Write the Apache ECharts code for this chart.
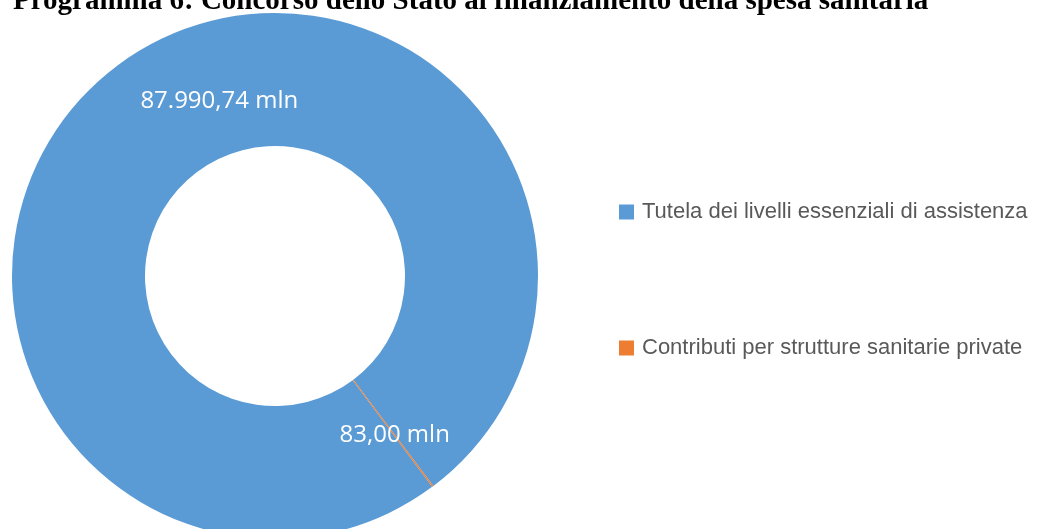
<!DOCTYPE html>
<html lang="it">
<head>
	<meta charset="UTF-8">
	<title>Programma 6</title>
	<style>
		html, body { margin: 0; padding: 0; background: #fff; }
		#main { width: 1045px; height: 529px; }
	</style>
</head>
<body>
	<div id="main"></div>
	<script src="https://cdn.jsdelivr.net/npm/echarts@6/dist/echarts.min.js"></script>
	<script>
		// dati
		var categorie = ['Tutela dei livelli essenziali di assistenza', 'Contributi per strutture sanitarie private'];
		var valori = [87990.74, 83.00];
		var colori = ['#5B9BD5', '#ED7D31'];
		var titolo = 'Programma 6: Concorso dello Stato al finanziamento della spesa sanitaria';

		// 87990.74 -> "87.990,74"
		function formatIt(v) {
			var parti = v.toFixed(2).split('.');
			var intero = parti[0].replace(/\B(?=(\d{3})+(?!\d))/g, '.');
			return intero + ',' + parti[1];
		}

		var myChart = echarts.init(document.getElementById('main'));

		var dati = categorie.map(function (nome, i) {
			var d = { name: nome, value: valori[i], itemStyle: { color: colori[i] } };
			if (i === 0) {
				d.label = { offset: [64, -15] };
			}
			return d;
		});

		var option = {
			animation: false,
			title: {
				text: titolo,
				left: 8,
				top: -18,
				textStyle: {
					fontFamily: 'Liberation Serif',
					fontWeight: 'bold',
					fontSize: 29,
					color: '#000'
				}
			},
			legend: {
				orient: 'vertical',
				left: 614,
				top: 196,
				itemGap: 114,
				itemWidth: 15,
				itemHeight: 15,
				icon: 'rect',
				data: categorie,
				textStyle: {
					fontFamily: 'Liberation Sans',
					fontSize: 22,
					lineHeight: 20,
					color: '#595959',
					padding: [0, 0, 0, 3]
				}
			},
			series: [
				{
					type: 'pie',
					center: [275, 276],
					radius: [130, 263],
					startAngle: -53.3,
					clockwise: true,
					silent: true,
					label: {
						show: true,
						position: 'inside',
						color: '#fff',
						fontFamily: 'Open Sans',
						fontSize: 24,
						formatter: function (p) {
							return formatIt(p.value) + ' mln';
						}
					},
					labelLine: { show: false },
					data: dati
				}
			]
		};

		myChart.setOption(option);
	</script>
</body>
</html>
